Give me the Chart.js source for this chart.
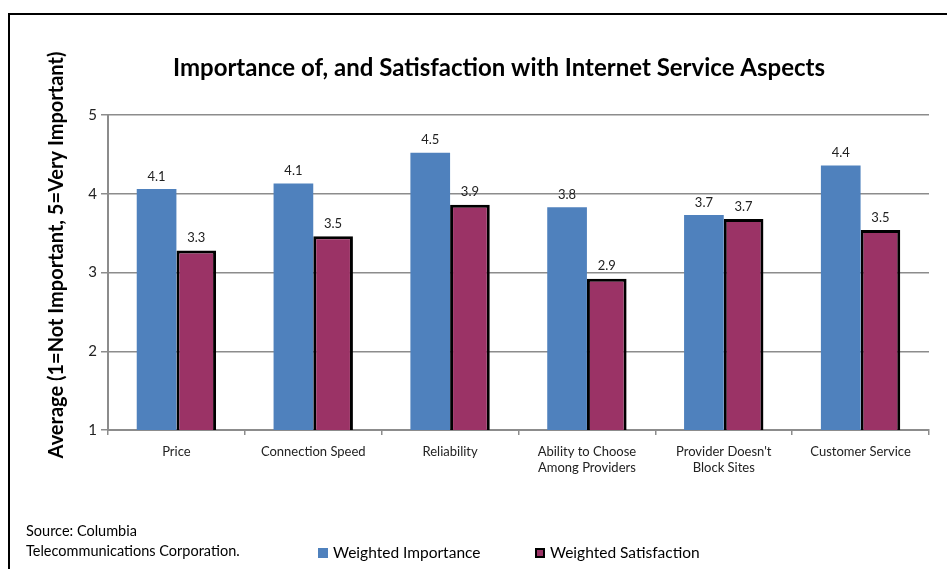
<!DOCTYPE html>
<html>
<head>
<meta charset="utf-8">
<script src="https://cdn.jsdelivr.net/npm/chart.js@4/dist/chart.umd.min.js"></script>
<style>
  html, body { margin: 0; padding: 0; background: #fff; }
  #wrap { position: relative; width: 947px; height: 569px; }
</style>
</head>
<body>
<div id="wrap"><canvas id="c" width="947" height="569"></canvas></div>
<script>
// Survey aspects and average ratings (1 = Not Important, 5 = Very Important)
const categories = [
  ["Price"],
  ["Connection Speed"],
  ["Reliability"],
  ["Ability to Choose", "Among Providers"],
  ["Provider Doesn't", "Block Sites"],
  ["Customer Service"]
];
const weightedImportance   = [4.06, 4.13, 4.52, 3.83, 3.73, 4.36];
const weightedSatisfaction = [3.28, 3.46, 3.86, 2.92, 3.68, 3.54];
const yTicks = [1, 2, 3, 4, 5];

const seriesNames = ["Weighted Importance", "Weighted Satisfaction"];
const FONT = "Lato, 'Open Sans', sans-serif";

// Bar value labels, one decimal, drawn above each bar
const valueLabels = {
  id: 'valueLabels',
  afterDatasetsDraw(chart) {
    const ctx = chart.ctx;
    ctx.save();
    ctx.font = "13px " + FONT;
    ctx.fillStyle = "#222";
    ctx.textAlign = "center";
    ctx.textBaseline = "bottom";
    chart.data.datasets.forEach((ds, i) => {
      chart.getDatasetMeta(i).data.forEach((bar, j) => {
        ctx.fillText(ds.data[j].toFixed(1), bar.x, bar.y - 6);
      });
    });
    ctx.restore();
  }
};

// Title, axis title, source note, legend and frame
const decorations = {
  id: 'decorations',
  afterDraw(chart) {
    const ctx = chart.ctx;
    ctx.save();
    // frame
    ctx.strokeStyle = "#000";
    ctx.lineWidth = 2;
    ctx.beginPath();
    ctx.moveTo(9, 569);
    ctx.lineTo(9, 14);
    ctx.lineTo(947, 14);
    ctx.stroke();

    // title
    ctx.fillStyle = "#000";
    ctx.font = "bold 24px " + FONT;
    ctx.textAlign = "center";
    ctx.textBaseline = "middle";
    ctx.fillText("Importance of, and Satisfaction with Internet Service Aspects", 499, 68);

    // y axis title
    ctx.save();
    ctx.translate(57, 255);
    ctx.rotate(-Math.PI / 2);
    ctx.font = "bold 20px " + FONT;
    ctx.fillText("Average (1=Not Important, 5=Very Important)", 0, 0);
    ctx.restore();

    // source note
    ctx.font = "14.5px " + FONT;
    ctx.textAlign = "left";
    ctx.fillText("Source: Columbia", 26, 531);
    ctx.fillText("Telecommunications Corporation.", 26, 551);

    // legend
    const colors = chart.data.datasets.map(d => d.backgroundColor);
    const items = [
      { x: 318, fill: colors[0], stroke: null },
      { x: 535, fill: colors[1], stroke: "#000" }
    ];
    ctx.font = "15.5px " + FONT;
    items.forEach((it, i) => {
      ctx.fillStyle = it.fill;
      ctx.fillRect(it.x, 548, 10, 10);
      if (it.stroke) {
        ctx.strokeStyle = it.stroke;
        ctx.lineWidth = 2;
        ctx.strokeRect(it.x + 1, 549, 8, 8);
      }
      ctx.fillStyle = "#000";
      ctx.fillText(seriesNames[i], it.x + 15, 553);
    });
    ctx.restore();
  }
};

new Chart(document.getElementById('c'), {
  type: 'bar',
  data: {
    labels: categories,
    datasets: [
      {
        label: seriesNames[0],
        data: weightedImportance,
        backgroundColor: "#4f81bd",
        borderWidth: 0
      },
      {
        label: seriesNames[1],
        data: weightedSatisfaction,
        backgroundColor: "#9b3366",
        borderColor: "#000",
        borderWidth: 3
      }
    ]
  },
  options: {
    responsive: false,
    animation: false,
    events: [],
    layout: { padding: { left: 0, top: 115, right: 18, bottom: 0 } },
    datasets: { bar: { categoryPercentage: 0.58, barPercentage: 1 } },
    plugins: {
      legend: { display: false },
      title: { display: false },
      tooltip: { enabled: false }
    },
    scales: {
      x: {
        afterFit(scale) { scale.height = 139; },
        grid: {
          offset: true,
          drawOnChartArea: false,
          color: "#8c8c8c",
          lineWidth: 1.5,
          tickLength: 5
        },
        border: { color: "#8c8c8c", width: 2 },
        ticks: {
          color: "#222",
          font: { family: FONT, size: 13 },
          padding: 9,
          maxRotation: 0,
          autoSkip: false
        }
      },
      y: {
        min: 1,
        max: 5,
        afterFit(scale) { scale.width = 108; },
        afterBuildTicks(scale) { scale.ticks = yTicks.map(v => ({ value: v })); },
        grid: {
          color: "#8c8c8c",
          lineWidth: 1.5,
          tickLength: 7
        },
        border: { color: "#8c8c8c", width: 2 },
        ticks: {
          color: "#222",
          font: { family: FONT, size: 15 },
          padding: 4
        }
      }
    }
  },
  plugins: [valueLabels, decorations]
});
</script>
</body>
</html>
